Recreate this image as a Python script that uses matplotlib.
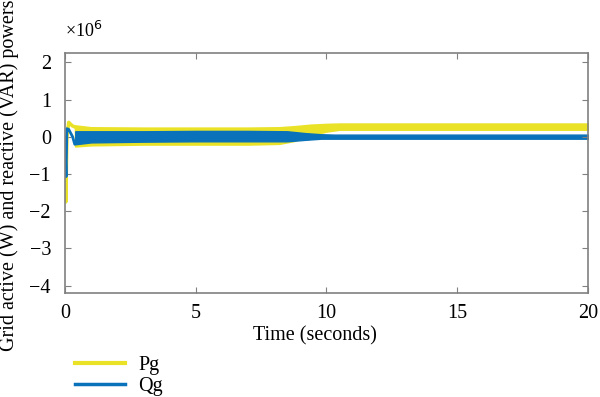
import matplotlib.pyplot as plt
from matplotlib.lines import Line2D

# values in units of 1e6 (W / VAR)
# start-up transient
pg_start_t = [0.0, 0.04, 0.08, 0.15, 0.28, 0.4]
pg_start = [0.0, -1.75, 0.0, 0.39, 0.30, 0.26]
qg_start_t = [0.0, 0.05, 0.08, 0.15, 0.30, 0.38, 0.45]
qg_start = [0.0, -1.07, 0.22, 0.20, 0.0, -0.20, -0.12]

# envelope of the fast oscillation band
pg_t = [0.4, 1, 3, 5, 7, 8.2, 8.8, 9.4, 10.0, 10.5, 20]
pg_hi = [0.30, 0.25, 0.24, 0.24, 0.24, 0.25, 0.28, 0.32, 0.34, 0.35, 0.35]
pg_lo = [-0.25, -0.22, -0.20, -0.20, -0.20, -0.18, -0.10, 0.05, 0.15, 0.20, 0.20]

qg_t = [0.4, 1, 3, 5, 7, 8.5, 9.2, 9.8, 10.3, 20]
qg_hi = [0.15, 0.15, 0.15, 0.16, 0.16, 0.15, 0.10, 0.07, 0.06, 0.06]
qg_lo = [-0.20, -0.15, -0.13, -0.12, -0.12, -0.12, -0.08, -0.05, -0.05, -0.05]

xticks = [0, 5, 10, 15, 20]
yticks = [-4, -3, -2, -1, 0, 1, 2]

yellow = '#e9e227'
blue = '#0a72ba'

plt.rcParams['font.family'] = ['Liberation Serif', 'DejaVu Serif']

fig = plt.figure(figsize=(6, 3.97), dpi=100)
ax = fig.add_axes([0.108, 0.262, 0.872, 0.604])

ax.fill_between(pg_t, pg_lo, pg_hi, color=yellow, lw=1.5, edgecolor=yellow)
ax.plot(pg_start_t, pg_start, color=yellow, lw=2.5)
ax.fill_between(qg_t, qg_lo, qg_hi, color=blue, lw=1.0, edgecolor=blue)
ax.plot(qg_start_t, qg_start, color=blue, lw=2.0)

ax.set_xlim(0, 20)
ax.set_ylim(-4.2, 2.25)
ax.set_xticks(xticks)
ax.set_yticks(yticks)
ax.set_yticklabels(['\u22124', '\u22123', '\u22122', '\u22121', '0', '1', '2'])
ax.tick_params(direction='in', top=True, right=True, labelsize=14.5,
               color='#808080', length=4)
ax.tick_params(axis='x', pad=8)
ax.tick_params(axis='y', pad=10)
for s in ax.spines.values():
    s.set_color('#808080')
    s.set_linewidth(1.2)

ax.set_xlabel('Time (seconds)', fontsize=14.5)
ax.xaxis.set_label_coords(0.478, -0.14)
ax.set_ylabel('Grid active (W) and reactive (VAR) powers', fontsize=14.5)
ax.yaxis.set_label_coords(-0.088, 0.49)

ax.text(0.0, 1.05, '\u00d710$^6$', transform=ax.transAxes, fontsize=13,
        va='bottom', ha='left')

handles = [Line2D([], [], color=yellow, lw=3), Line2D([], [], color=blue, lw=2.5)]
fig.legend(handles, ['Pg', 'Qg'], loc='center left',
           bbox_to_anchor=(0.125, 0.052), frameon=False, fontsize=14.5,
           handlelength=2.5, handletextpad=0.65, labelspacing=0.1,
           borderaxespad=0, borderpad=0)

fig.savefig('out.png', dpi=100)
